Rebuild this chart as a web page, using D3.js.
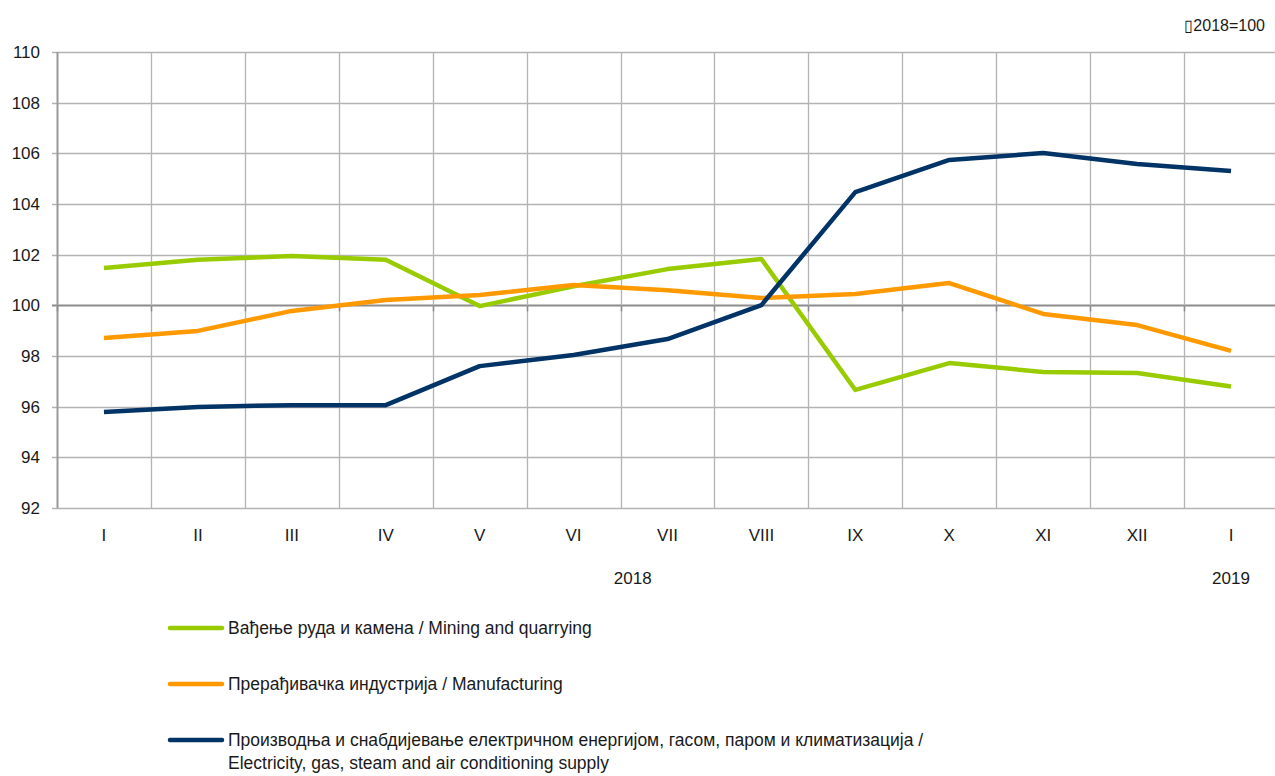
<!DOCTYPE html>
<html>
<head>
<meta charset="utf-8">
<script src="https://cdn.jsdelivr.net/npm/d3@7"></script>
<style>
  body { margin: 0; background: #fff; }
  svg text { font-family: "Liberation Sans", Arial, sans-serif; fill: #1a1a1a; }
</style>
</head>
<body>
<div id="chart"></div>
<script>
//---------------------------------- Data --------------------
var months = ["I", "II", "III", "IV", "V", "VI", "VII", "VIII", "IX", "X", "XI", "XII", "I "];
var mining = [101.47, 101.8, 101.95, 101.8, 99.97, 100.75, 101.43, 101.83, 96.66, 97.72, 97.37, 97.33, 96.8];
var manufacturing = [98.71, 98.99, 99.78, 100.21, 100.41, 100.8, 100.6, 100.29, 100.45, 100.88, 99.66, 99.22, 98.2];
var electricity = [95.79, 95.99, 96.06, 96.06, 97.6, 98.04, 98.67, 100.01, 104.47, 105.74, 106.01, 105.58, 105.3];
var yTicks = [92, 94, 96, 98, 100, 102, 104, 106, 108, 110];
var seriesNames = [
  ["Вађење руда и камена / Mining and quarrying"],
  ["Прерађивачка индустрија / Manufacturing"],
  ["Производња и снабдијевање електричном енергијом, гасом, паром и климатизација /",
   "Electricity, gas, steam and air conditioning supply"]
];
var seriesColors = ["#99cc00", "#ff9900", "#003366"];
var yearLabels = [{label: "2018", at: 5.63}, {label: "2019", at: 12}];

//---------------------------------- View --------------------
var width = 1275, height = 776;
var plotLeft = 57, plotRight = 1278, plotTop = 52, plotBottom = 508;

var svg = d3.select("#chart").append("svg")
  .attr("width", width)
  .attr("height", height);

var x_scale = d3.scaleBand().domain(months).range([plotLeft, plotRight]);
var y_scale = d3.scaleLinear().domain([92, 110]).range([plotBottom, plotTop]);

// ---------- grid ----------
svg.selectAll(".hgrid").data(yTicks).enter().append("line")
  .attr("class", "hgrid")
  .attr("x1", plotLeft - 5).attr("x2", plotRight)
  .attr("y1", function(d) { return Math.round(y_scale(d)) + 0.5; })
  .attr("y2", function(d) { return Math.round(y_scale(d)) + 0.5; })
  .attr("stroke", function(d) { return d == 100 ? "#8c8c8c" : "#b3b3b3"; })
  .attr("stroke-width", function(d) { return d == 100 ? 2 : 1.3; });

var vlines = months.map(function(m) { return x_scale(m); });
svg.selectAll(".vgrid").data(vlines).enter().append("line")
  .attr("class", "vgrid")
  .attr("x1", function(d) { return Math.round(d) + 0.5; })
  .attr("x2", function(d) { return Math.round(d) + 0.5; })
  .attr("y1", plotTop).attr("y2", plotBottom)
  .attr("stroke", function(d, i) { return i == 0 ? "#999" : "#b3b3b3"; })
  .attr("stroke-width", function(d, i) { return i == 0 ? 2 : 1.3; });

// small ticks under the 100 line
svg.selectAll(".xtick").data(vlines).enter().append("line")
  .attr("class", "xtick")
  .attr("x1", function(d) { return Math.round(d) + 0.5; })
  .attr("x2", function(d) { return Math.round(d) + 0.5; })
  .attr("y1", y_scale(100)).attr("y2", y_scale(100) + 6)
  .attr("stroke", "#8c8c8c").attr("stroke-width", 1.5);

// ---------- axis labels ----------
svg.selectAll(".ylab").data(yTicks).enter().append("text")
  .attr("class", "ylab")
  .attr("x", 40)
  .attr("y", function(d) { return y_scale(d) + 6; })
  .attr("text-anchor", "end")
  .style("font-size", "17px")
  .text(function(d) { return d; });

svg.selectAll(".xlab").data(months).enter().append("text")
  .attr("class", "xlab")
  .attr("x", function(d) { return x_scale(d) + x_scale.bandwidth() / 2; })
  .attr("y", 541)
  .attr("text-anchor", "middle")
  .style("font-size", "17px")
  .text(function(d) { return d.trim(); });

svg.selectAll(".year").data(yearLabels).enter().append("text")
  .attr("class", "year")
  .attr("x", function(d) { return plotLeft + x_scale.step() * (d.at + 0.5); })
  .attr("y", 584)
  .attr("text-anchor", "middle")
  .style("font-size", "17px")
  .text(function(d) { return d.label; });

svg.append("text")
  .attr("x", 1265).attr("y", 31)
  .attr("text-anchor", "end")
  .style("font-size", "16px")
  .text("\u25AF2018=100");

// ---------- lines ----------
var line = d3.line()
  .x(function(d, i) { return x_scale(months[i]) + x_scale.bandwidth() / 2; })
  .y(function(d) { return y_scale(d); });

[mining, manufacturing, electricity].forEach(function(s, k) {
  svg.append("path")
    .attr("d", line(s))
    .attr("fill", "none")
    .attr("stroke", seriesColors[k])
    .attr("stroke-width", 4.5)
    .attr("stroke-linejoin", "round");
});

// ---------- legend ----------
var legendY = [628, 684, 740];
seriesNames.forEach(function(lines, k) {
  svg.append("line")
    .attr("x1", 170).attr("x2", 222)
    .attr("y1", legendY[k]).attr("y2", legendY[k])
    .attr("stroke", seriesColors[k])
    .attr("stroke-width", 4.5)
    .attr("stroke-linecap", "round");
  lines.forEach(function(t, j) {
    svg.append("text")
      .attr("x", 228)
      .attr("y", legendY[k] + 6 + j * 23)
      .style("font-size", "17.5px")
      .text(t);
  });
});
</script>
</body>
</html>
